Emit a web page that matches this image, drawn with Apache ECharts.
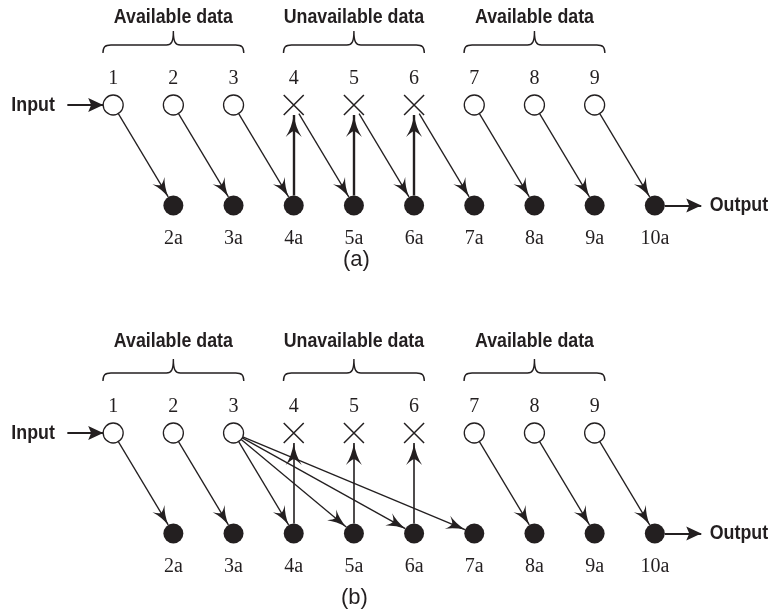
<!DOCTYPE html>
<html><head><meta charset="utf-8">
<script src="https://cdn.jsdelivr.net/npm/echarts@6/dist/echarts.min.js"></script>
<style>html,body{margin:0;padding:0;background:#fff}#c{width:771px;height:616px}</style>
</head><body><div id="c"></div>
<script>
// ---- data ----
const topIds = ['1', '2', '3', '4', '5', '6', '7', '8', '9'];
const topMissing = [false, false, false, true, true, true, false, false, false];
const bottomIds = ['2a', '3a', '4a', '5a', '6a', '7a', '8a', '9a', '10a'];
const groupNames = ['Available data', 'Unavailable data', 'Available data'];
const groupSpans = [[1, 3], [4, 6], [7, 9]];
const linksA = [['1', '2a'], ['2', '3a'], ['3', '4a'], ['4a', '4'], ['4', '5a'], ['5a', '5'],
                ['5', '6a'], ['6a', '6'], ['6', '7a'], ['7', '8a'], ['8', '9a'], ['9', '10a']];
const linksB = [['1', '2a'], ['2', '3a'], ['3', '4a'], ['3', '5a'], ['3', '6a'], ['3', '7a'],
                ['4a', '4'], ['5a', '5'], ['6a', '6'], ['7', '8a'], ['8', '9a'], ['9', '10a']];
const captions = ['(a)', '(b)'];
const ioLabels = ['Input', 'Output'];

// ---- style / layout ----
const INK = '#231f20';
const SERIF = "'Liberation Serif','Times New Roman',serif";
const BOLD = "'Liberation Sans',Arial,sans-serif";
const SANS = "'Liberation Sans',Arial,sans-serif";
const ARROW = 'path://M-19,-19 M19,19 M0,0 Q2,11 7,19 Q2.6,14.5 0,14 Q-2.6,14.5 -7,19 Q-2,11 0,0 Z';
const ARROW_BIG = 'path://M-22,-22 M22,22 M0,0 Q2,13 8,22 Q2.8,17 0,16 Q-2.8,17 -8,22 Q-2,13 0,0 Z';
const HEAD = 'path://M-15,-15 M15,15 M0,0 L7,15 L0,12 L-7,15 Z';
const BLANK = 'path://M-1,-1 M1,1';
const CROSS = 'path://M0,0L20,20M20,0L0,20';
const IO_POS = [[0.23, 1], [10.78, 0]];
const BR = { pad: 0.17, end: 1.517, flat: 1.597, peak: 1.736, text: [1.87, 1.91] };
const COND_SCALE = 0.89;

function buildNodes() {
  const arr = [];
  topIds.forEach((id, i) => {
    arr.push({
      name: id, value: [i + 1, 1],
      symbol: topMissing[i] ? CROSS : 'circle', symbolSize: 20,
      itemStyle: topMissing[i]
        ? { color: 'rgba(0,0,0,0)', borderColor: INK, borderWidth: 1.5 }
        : { color: '#fff', borderColor: INK, borderWidth: 1.3 },
      label: { position: 'top', distance: 6 }
    });
  });
  bottomIds.forEach((id, i) => {
    arr.push({
      name: id, value: [i + 2, 0], symbol: 'circle', symbolSize: 20,
      itemStyle: { color: INK, borderWidth: 0 },
      label: { position: 'bottom', distance: 13 }
    });
  });
  const ioStyle = { color: 'rgba(0,0,0,0)', borderWidth: 0 };
  ioLabels.forEach((name, i) => {
    arr.push({ name: name, value: IO_POS[i].slice(), symbolSize: 1, itemStyle: ioStyle, label: { show: false } });
  });
  return arr;
}

function buildLinks(pairs, panel) {
  const isBottom = id => bottomIds.indexOf(id) >= 0;
  const out = pairs.map(([s, t]) => {
    const vertical = isBottom(s) && !isBottom(t);
    const l = { source: s, target: t };
    if (vertical) {
      l.symbol = [BLANK, ARROW_BIG];
      l.symbolSize = [2, 44];
      l.lineStyle = { width: panel === 0 ? 2.4 : 1.6 };
    }
    return l;
  });
  out.push({ source: ioLabels[0], target: topIds[0], symbol: [BLANK, HEAD], symbolSize: [2, 30], lineStyle: { width: 2 } });
  out.push({ source: bottomIds[bottomIds.length - 1], target: ioLabels[1], symbol: [BLANK, HEAD], symbolSize: [2, 30], lineStyle: { width: 2 } });
  return out;
}

function graphSeries(panel, pairs) {
  return {
    type: 'graph', coordinateSystem: 'cartesian2d', xAxisIndex: panel, yAxisIndex: panel,
    layout: 'none', silent: true, roam: false, z: 3,
    edgeSymbol: [BLANK, ARROW], edgeSymbolSize: [2, 38],
    lineStyle: { color: INK, width: 1.3, opacity: 1, curveness: 0 },
    label: { show: true, fontFamily: SERIF, fontSize: 20, color: INK },
    emphasis: { disabled: true },
    data: buildNodes(), links: buildLinks(pairs, panel)
  };
}

function condText(text, x, y, align) {
  return { type: 'text', x: x, y: y, scaleX: COND_SCALE,
    style: { text: text, x: 0, y: 0, align: align, verticalAlign: 'middle',
      fontFamily: BOLD, fontWeight: 'bold', fontSize: 20, fill: INK } };
}

function braceSeries(panel) {
  return {
    type: 'custom', coordinateSystem: 'cartesian2d', xAxisIndex: panel, yAxisIndex: panel,
    silent: true, clip: false, z: 2,
    data: groupSpans.map(s => s.slice()),
    renderItem: function (params, api) {
      const a = api.value(0), b = api.value(1);
      const x1 = api.coord([a - BR.pad, 0])[0];
      const x2 = api.coord([b + BR.pad, 0])[0];
      const xm = (x1 + x2) / 2;
      const yE = api.coord([a, BR.end])[1];
      const yH = api.coord([a, BR.flat])[1];
      const yP = api.coord([a, BR.peak])[1];
      const yT = api.coord([a, BR.text[panel]])[1];
      const d = 'M' + x1 + ',' + yE +
        ' C' + x1 + ',' + (yH + 2) + ' ' + (x1 + 2) + ',' + yH + ' ' + (x1 + 8) + ',' + yH +
        ' L' + (xm - 7) + ',' + yH +
        ' C' + (xm - 2) + ',' + yH + ' ' + xm + ',' + (yH - 3) + ' ' + xm + ',' + yP +
        ' C' + xm + ',' + (yH - 3) + ' ' + (xm + 2) + ',' + yH + ' ' + (xm + 7) + ',' + yH +
        ' L' + (x2 - 8) + ',' + yH +
        ' C' + (x2 - 2) + ',' + yH + ' ' + x2 + ',' + (yH + 2) + ' ' + x2 + ',' + yE;
      return {
        type: 'group',
        children: [
          { type: 'path', shape: { pathData: d }, style: { fill: 'none', stroke: INK, lineWidth: 1.4 } },
          condText(groupNames[params.dataIndex], xm, yT, 'center')
        ]
      };
    }
  };
}

function ioSeries(panel) {
  return {
    type: 'custom', coordinateSystem: 'cartesian2d', xAxisIndex: panel, yAxisIndex: panel,
    silent: true, clip: false, z: 4,
    data: IO_POS.map(p => p.slice()),
    renderItem: function (params, api) {
      const p = api.coord([api.value(0), api.value(1)]);
      const i = params.dataIndex;
      return condText(ioLabels[i], i === 0 ? p[0] - 12 : p[0] + 8, p[1], i === 0 ? 'right' : 'left');
    }
  };
}

const chart = echarts.init(document.getElementById('c'), null, { renderer: 'canvas' });
const axisX = i => ({ type: 'value', gridIndex: i, min: 0, max: 11, show: false });
const axisY = i => ({ type: 'value', gridIndex: i, min: -0.6, max: 2, show: false });
chart.setOption({
  animation: false,
  backgroundColor: '#fff',
  title: [
    { text: captions[0], left: 343, top: 249, padding: 0,
      textStyle: { fontFamily: SANS, fontWeight: 'normal', fontSize: 22, color: INK } },
    { text: captions[1], left: 341, top: 587, padding: 0,
      textStyle: { fontFamily: SANS, fontWeight: 'normal', fontSize: 22, color: INK } }
  ],
  grid: [
    { left: 53, width: 662, top: 4.5, height: 261.3, show: false },
    { left: 53, width: 662, top: 332.5, height: 261.3, show: false }
  ],
  xAxis: [axisX(0), axisX(1)],
  yAxis: [axisY(0), axisY(1)],
  series: [graphSeries(0, linksA), braceSeries(0), ioSeries(0),
           graphSeries(1, linksB), braceSeries(1), ioSeries(1)]
});
</script></body></html>
